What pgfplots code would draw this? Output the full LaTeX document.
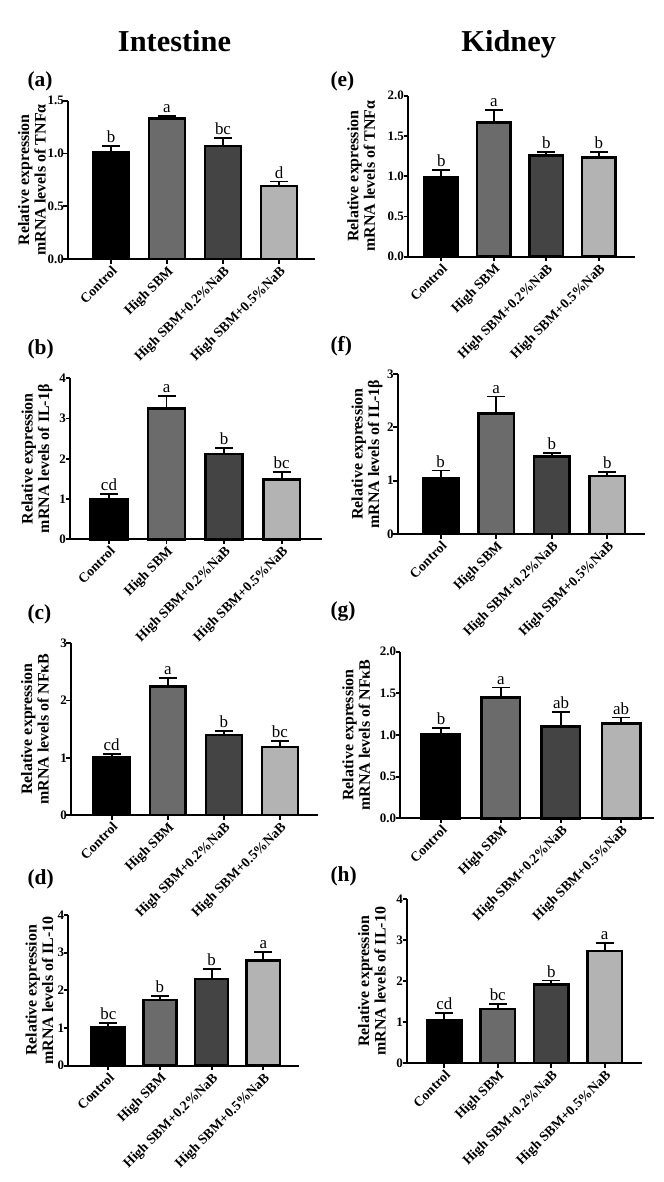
\documentclass[border=0pt]{standalone}
\usepackage{fontspec}
\setmainfont{Liberation Serif}
\usepackage{pgfplots}
\usepackage{pgfplotstable}
\pgfplotsset{compat=1.18}

\definecolor{cA}{HTML}{000000}
\definecolor{cB}{HTML}{6B6B6B}
\definecolor{cC}{HTML}{444444}
\definecolor{cD}{HTML}{B3B3B3}

\pgfplotsset{
  panel/.style={
    scale only axis, anchor=south west, clip=false,
    axis lines=left, axis line style={-, line width=2bp},
    ymin=0,
    xtick={0,1,2,3},
    xticklabels={Control, High SBM, High SBM+0.2\%NaB, High SBM+0.5\%NaB},
    tick align=outside, major tick length=4.5bp,
    every tick/.style={line width=1.8bp, black},
    minor tick num=0,
    xticklabel style={rotate=45, anchor=north east, inner sep=1bp,
      font=\fontsize{13.8}{14}\selectfont\bfseries},
    yticklabel style={font=\fontsize{13}{13}\selectfont\bfseries, inner sep=1.5bp, xshift=2bp},
    /pgf/number format/assume math mode=true,
    ylabel style={align=center, font=\fontsize{16}{16.5}\selectfont\bfseries, anchor=center},
  },
  dec/.style={yticklabel style={/pgf/number format/.cd, fixed, fixed zerofill, precision=1}},
  mybar/.style={ybar, bar width=0.64, bar shift=0pt, draw=black, line width=2.6bp, fill=#1,
    error bars/y dir=plus, error bars/y explicit,
    error bars/error bar style={line width=1.7bp, black},
    error bars/error mark options={rotate=90, mark size=9bp, line width=1.7bp, black}},
}

\newcommand{\barsof}[1]{%
  \addplot[mybar=cA, restrict x to domain=-0.5:0.5] table[x=x, y=y, y error=e]{#1};
  \addplot[mybar=cB, restrict x to domain=0.5:1.5] table[x=x, y=y, y error=e]{#1};
  \addplot[mybar=cC, restrict x to domain=1.5:2.5] table[x=x, y=y, y error=e]{#1};
  \addplot[mybar=cD, restrict x to domain=2.5:3.5] table[x=x, y=y, y error=e]{#1};
  \addplot[draw=none, mark=none, nodes near coords, point meta=explicit symbolic,
    nodes near coords style={anchor=south, inner sep=0pt, yshift=3bp, font=\fontsize{17}{17}\selectfont}]
    table[x=x, y expr=\thisrow{y}+\thisrow{e}, meta=lab]{#1};
}

% Intestine
\pgfplotstableread{
x y e lab
0 1.01 0.06 b
1 1.33 0.025 a
2 1.07 0.075 bc
3 0.69 0.045 d
}\tA
\pgfplotstableread{
x y e lab
0 1.00 0.12 cd
1 3.25 0.31 a
2 2.12 0.155 b
3 1.49 0.175 bc
}\tB
\pgfplotstableread{
x y e lab
0 1.01 0.06 cd
1 2.25 0.145 a
2 1.40 0.07 b
3 1.19 0.10 bc
}\tC
\pgfplotstableread{
x y e lab
0 1.01 0.13 bc
1 1.74 0.115 b
2 2.30 0.26 b
3 2.80 0.215 a
}\tD
% Kidney
\pgfplotstableread{
x y e lab
0 0.985 0.095 b
1 1.67 0.155 a
2 1.26 0.045 b
3 1.23 0.075 b
}\tE
\pgfplotstableread{
x y e lab
0 1.04 0.15 b
1 2.26 0.32 a
2 1.45 0.075 b
3 1.09 0.075 b
}\tF
\pgfplotstableread{
x y e lab
0 1.01 0.07 b
1 1.45 0.12 a
2 1.10 0.18 ab
3 1.14 0.07 ab
}\tG
\pgfplotstableread{
x y e lab
0 1.035 0.195 cd
1 1.32 0.115 bc
2 1.925 0.09 b
3 2.74 0.19 a
}\tH

\begin{document}
\begin{tikzpicture}
\path[use as bounding box] (0bp,0bp) rectangle (664bp,-1182bp);

\node[anchor=base, font=\fontsize{30.5}{32}\selectfont\bfseries] at (174.5bp,-51bp) {Intestine};
\node[anchor=base, font=\fontsize{30.5}{32}\selectfont\bfseries] at (508.7bp,-51bp) {Kidney};

\node[anchor=base west, font=\fontsize{21.5}{22}\selectfont\bfseries] at (24bp,-86bp) {(a)};
\node[anchor=base west, font=\fontsize{21.5}{22}\selectfont\bfseries] at (327bp,-86bp) {(e)};
\node[anchor=base west, font=\fontsize{21.5}{22}\selectfont\bfseries] at (24bp,-354bp) {(b)};
\node[anchor=base west, font=\fontsize{21.5}{22}\selectfont\bfseries] at (327bp,-351bp) {(f)};
\node[anchor=base west, font=\fontsize{21.5}{22}\selectfont\bfseries] at (24bp,-619bp) {(c)};
\node[anchor=base west, font=\fontsize{21.5}{22}\selectfont\bfseries] at (327bp,-616bp) {(g)};
\node[anchor=base west, font=\fontsize{21.5}{22}\selectfont\bfseries] at (24bp,-884bp) {(d)};
\node[anchor=base west, font=\fontsize{21.5}{22}\selectfont\bfseries] at (327bp,-881bp) {(h)};

% (a)
\begin{axis}[panel, dec, at={(68bp,-259bp)}, width=247bp, height=158.3bp,
  xmin=-0.768, xmax=3.643, ymax=1.5, ytick={0,0.5,1,1.5},
  ylabel={Relative expression\\mRNA levels of TNFα},
  ylabel style={at={(axis description cs:-0.146,0.5)}}]
\barsof{\tA}
\end{axis}

% (e)
\begin{axis}[panel, dec, at={(408bp,-256.7bp)}, width=227bp, height=161bp,
  xmin=-0.634, xmax=3.69, ymax=2, ytick={0,0.5,1,1.5,2},
  ylabel={Relative expression\\mRNA levels of TNFα},
  ylabel style={at={(axis description cs:-0.206,0.5)}}]
\barsof{\tE}
\end{axis}

% (b)
\begin{axis}[panel, at={(70bp,-539.3bp)}, width=251.7bp, height=161bp,
  xmin=-0.677, xmax=3.694, ymax=4, ytick={0,1,2,3,4},
  ylabel={Relative expression\\mRNA levels of IL-1β},
  ylabel style={at={(axis description cs:-0.131,0.5)}}]
\barsof{\tB}
\end{axis}

% (f)
\begin{axis}[panel, at={(397.7bp,-534bp)}, width=247.6bp, height=160bp,
  xmin=-0.775, xmax=3.685, ymax=3, ytick={0,1,2,3},
  ylabel={Relative expression\\mRNA levels of IL-1β},
  ylabel style={at={(axis description cs:-0.124,0.5)}}]
\barsof{\tF}
\end{axis}

% (c)
\begin{axis}[panel, at={(71bp,-815bp)}, width=247.3bp, height=171.7bp,
  xmin=-0.725, xmax=3.683, ymax=3, ytick={0,1,2,3},
  ylabel={Relative expression\\mRNA levels of NFκB},
  ylabel style={at={(axis description cs:-0.146,0.5)}}]
\barsof{\tC}
\end{axis}

% (g)
\begin{axis}[panel, dec, at={(400.3bp,-818.3bp)}, width=253.4bp, height=166.6bp,
  xmin=-0.678, xmax=3.545, ymax=2, ytick={0,0.5,1,1.5,2},
  ylabel={Relative expression\\mRNA levels of NFκB},
  ylabel style={at={(axis description cs:-0.174,0.5)}}]
\barsof{\tG}
\end{axis}

% (d)
\begin{axis}[panel, at={(68.3bp,-1065.7bp)}, width=231bp, height=150.7bp,
  xmin=-0.774, xmax=3.696, ymax=4, ytick={0,1,2,3,4},
  ylabel={Relative expression\\mRNA levels of IL-10},
  ylabel style={at={(axis description cs:-0.125,0.5)}}]
\barsof{\tD}
\end{axis}

% (h)
\begin{axis}[panel, at={(407bp,-1063bp)}, width=235bp, height=163.7bp,
  xmin=-0.697, xmax=3.697, ymax=4, ytick={0,1,2,3,4},
  ylabel={Relative expression\\mRNA levels of IL-10},
  ylabel style={at={(axis description cs:-0.149,0.5)}}]
\barsof{\tH}
\end{axis}

\end{tikzpicture}
\end{document}
